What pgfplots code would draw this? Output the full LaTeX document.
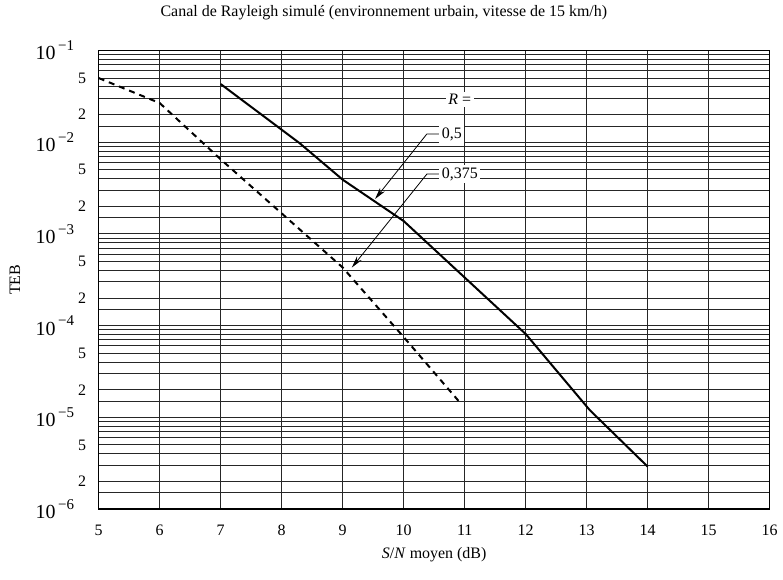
\documentclass[border=0pt]{standalone}
\usepackage{fontspec}
\setmainfont{Liberation Serif}
\usepackage{pgfplots}
\pgfplotsset{compat=1.18}
\usetikzlibrary{arrows.meta}
\newcommand{\dec}[1]{{\fontsize{10}{12}\selectfont 10}\,\raisebox{4.6pt}{\fontsize{7.5}{9}\selectfont #1}\kern6pt}
\begin{document}
\fontsize{8}{9.6}\selectfont
\begin{tikzpicture}
\begin{axis}[
 scale only axis, width=336.5pt, height=230pt,
 ymode=log, log basis y=10,
 xmin=5, xmax=16, ymin=1e-6, ymax=1e-1,
 xtick={5,6,...,16},
 ytick={1e-6,2e-6,5e-6,1e-5,2e-5,5e-5,1e-4,2e-4,5e-4,1e-3,2e-3,5e-3,1e-2,2e-2,5e-2,1e-1},
 yticklabels={{\dec{−6}},2,5,{\dec{−5}},2,5,{\dec{−4}},2,5,{\dec{−3}},2,5,{\dec{−2}},2,5,{\dec{−1}}},
 minor ytick={1.5e-6,3e-6,4e-6,6e-6,7e-6,8e-6,9e-6,
   1.5e-5,3e-5,4e-5,6e-5,7e-5,8e-5,9e-5,
   1.5e-4,3e-4,4e-4,6e-4,7e-4,8e-4,9e-4,
   1.5e-3,3e-3,4e-3,6e-3,7e-3,8e-3,9e-3,
   1.5e-2,3e-2,4e-2,6e-2,7e-2,8e-2,9e-2},
 grid=both,
 major grid style={black!85, line width=0.5pt},
 minor grid style={black!85, line width=0.5pt},
 major tick length=0pt, minor tick length=0pt,
 axis line style={line width=0.7pt},
 /pgf/number format/assume math mode=true,
 xticklabel style={anchor=center, yshift=-10.5pt},
 yticklabel style={xshift=-3.5pt},
 title={Canal de Rayleigh simulé (environnement urbain, vitesse de 15 km/h)},
 title style={at={(axis description cs:0.425,1.0565)}, anchor=center},
 xlabel={\textit{S}/\textit{N} moyen (dB)},
 xlabel style={at={(axis description cs:0.5,-0.1)}, anchor=center},
 ylabel={TEB},
 ylabel style={at={(axis description cs:-0.125,0.5)}, anchor=center},
 clip=false,
]
\addplot[black, line width=1pt] coordinates {
 (7,0.043) (8.29,0.0098) (9,0.0039) (10,0.00138) (12,8.1e-5) (13.05,1.2e-5) (14,2.9e-6)};
\addplot[black, line width=1pt, dash pattern=on 3pt off 2.5pt] coordinates {
 (5,0.05) (6,0.0267) (7,0.0065) (9,4.3e-4) (10,7.5e-5) (10.95,1.38e-5)};
\draw[line width=0.4pt, -{Stealth[length=6pt,width=3pt]}] (axis cs:10.58,0.0123) -- (axis cs:10.38,0.0123) -- (axis cs:9.53,0.0024);
\draw[line width=0.4pt, -{Stealth[length=6pt,width=3pt]}] (axis cs:10.58,0.00449) -- (axis cs:10.38,0.00449) -- (axis cs:9.15,4.3e-4);
\node[fill=white, inner sep=1.2pt] at (axis cs:10.92,0.0291) {\textit{R} =};
\node[fill=white, inner sep=1.2pt, anchor=west] at (axis cs:10.58,0.0123) {0,5};
\node[fill=white, inner sep=1.2pt, anchor=west] at (axis cs:10.58,0.00449) {0,375};
\end{axis}
\path (current axis.south west) ++(-49.5pt,-35.5pt) rectangle ([shift={(5.5pt,22pt)}]current axis.north east);
\end{tikzpicture}
\end{document}
